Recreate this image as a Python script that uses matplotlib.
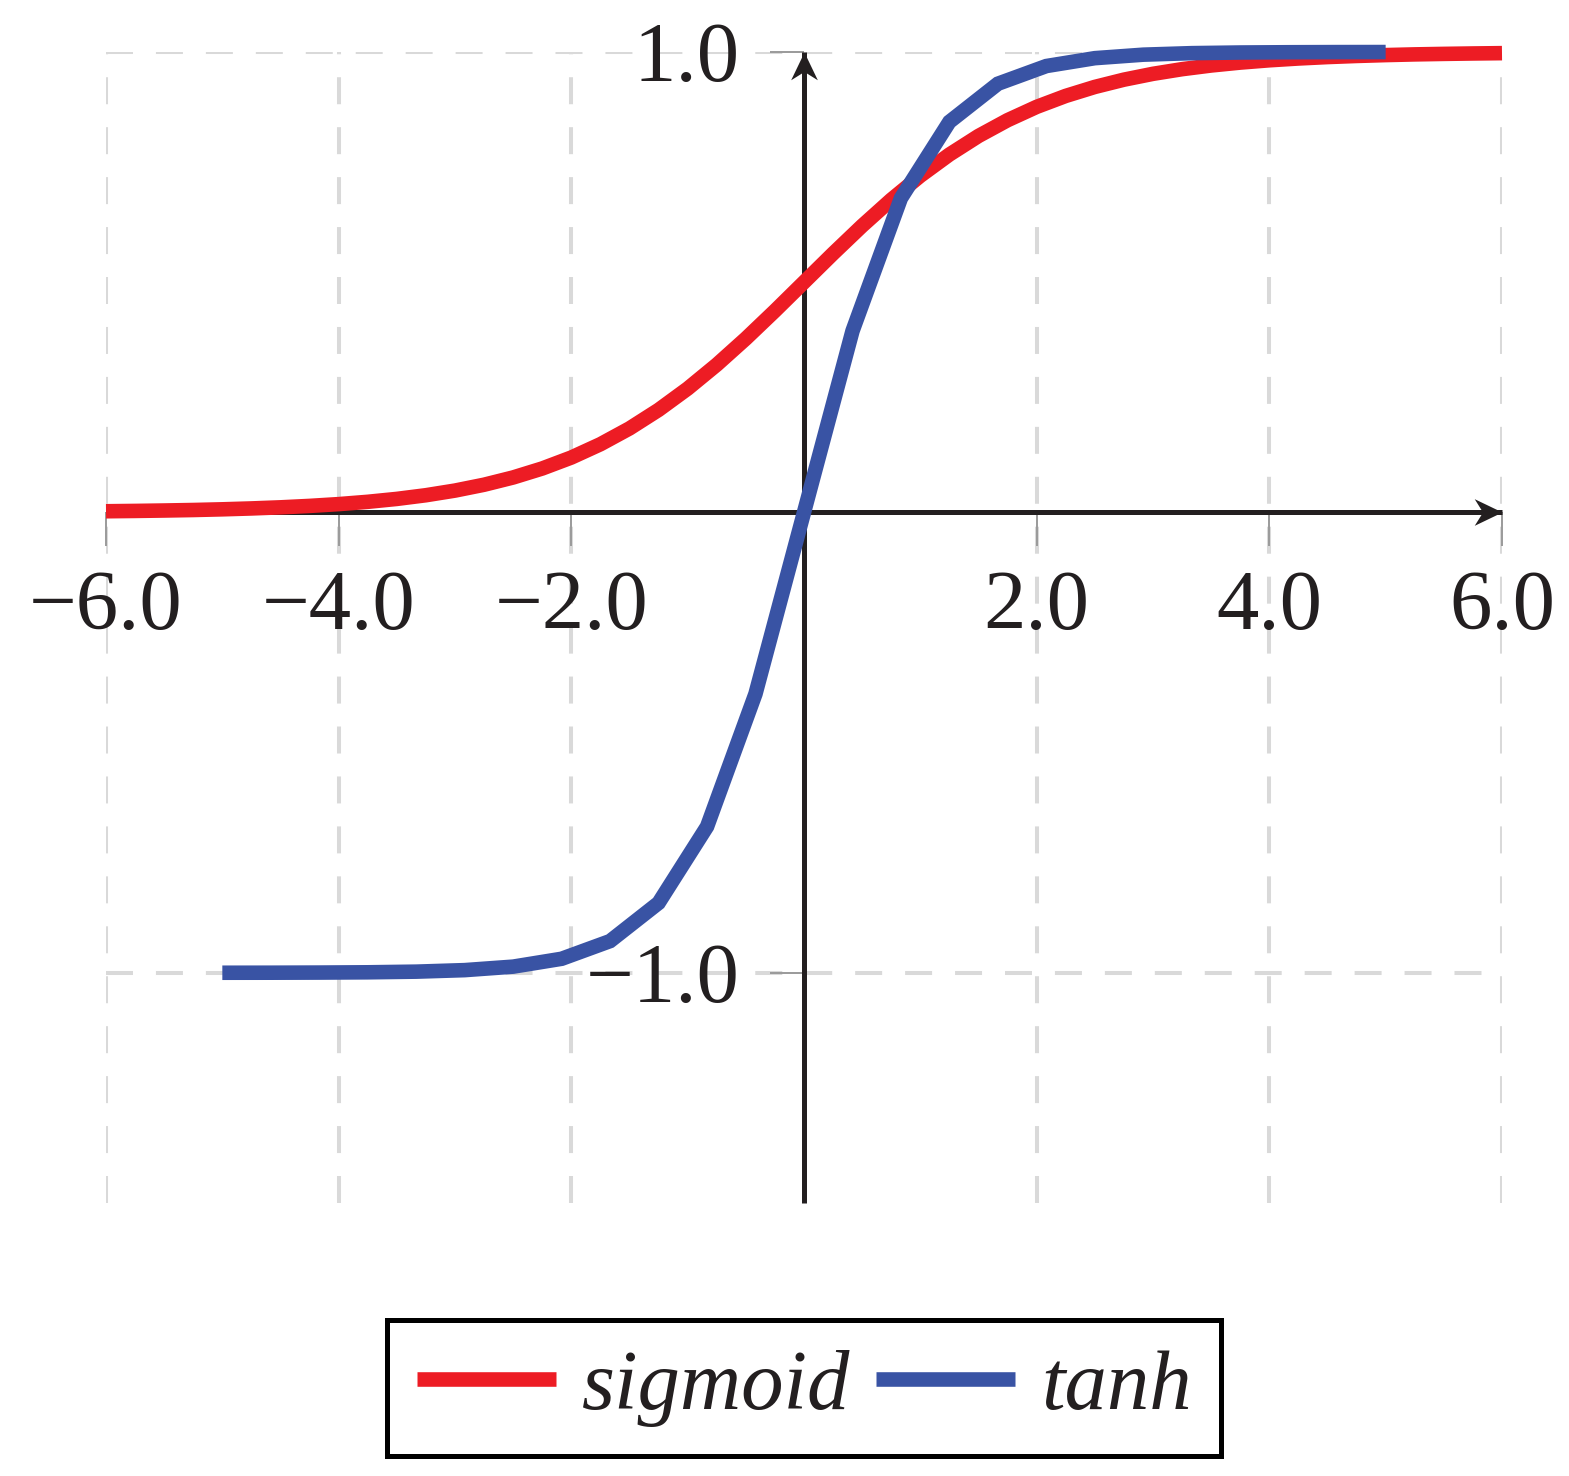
import matplotlib
matplotlib.use("Agg")
import matplotlib.pyplot as plt
from matplotlib.path import Path

# curve values
sig_x = [-6.0, -5.75, -5.5, -5.25, -5.0, -4.75, -4.5, -4.25, -4.0, -3.75, -3.5, -3.25,
         -3.0, -2.75, -2.5, -2.25, -2.0, -1.75, -1.5, -1.25, -1.0, -0.75, -0.5, -0.25,
         0.0, 0.25, 0.5, 0.75, 1.0, 1.25, 1.5, 1.75, 2.0, 2.25, 2.5, 2.75, 3.0, 3.25,
         3.5, 3.75, 4.0, 4.25, 4.5, 4.75, 5.0, 5.25, 5.5, 5.75, 6.0]
sig_y = [0.0025, 0.0032, 0.0041, 0.0052, 0.0067, 0.0086, 0.0110, 0.0141, 0.0180, 0.0230,
         0.0293, 0.0373, 0.0474, 0.0601, 0.0759, 0.0954, 0.1192, 0.1481, 0.1824, 0.2227,
         0.2689, 0.3208, 0.3775, 0.4378, 0.5000, 0.5622, 0.6225, 0.6792, 0.7311, 0.7773,
         0.8176, 0.8519, 0.8808, 0.9046, 0.9241, 0.9399, 0.9526, 0.9627, 0.9707, 0.9770,
         0.9820, 0.9859, 0.9890, 0.9914, 0.9933, 0.9948, 0.9959, 0.9968, 0.9975]

tanh_x = [-5.000, -4.583, -4.167, -3.750, -3.333, -2.917, -2.500, -2.083, -1.667, -1.250,
          -0.833, -0.417, 0.000, 0.417, 0.833, 1.250, 1.667, 2.083, 2.500, 2.917, 3.333,
          3.750, 4.167, 4.583, 5.000]
tanh_y = [-0.9999, -0.9998, -0.9995, -0.9989, -0.9975, -0.9942, -0.9866, -0.9695, -0.9311,
          -0.8483, -0.6823, -0.3941, 0.0, 0.3941, 0.6823, 0.8483, 0.9311, 0.9695, 0.9866,
          0.9942, 0.9975, 0.9989, 0.9995, 0.9998, 0.9999]

xticks = [-6, -4, -2, 2, 4, 6]
xlabels = ["\u22126.0", "\u22124.0", "\u22122.0", "2.0", "4.0", "6.0"]
yticks = [-1, 1]
ylabels = ["\u22121.0", "1.0"]

RED = "#ed1c24"
BLUE = "#3953a4"
DARK = "#231f20"
GRID = "#d9d9d9"
FONT = "Liberation Serif"
FS = 61

fig = plt.figure(figsize=(15.69, 14.76), dpi=100)
ax = fig.add_axes([0.06756, 0.18496, 0.88973, 0.77981])
xmin, xmax = -6, 6
ymin, ymax = -1.5, 1.0
ax.set_xlim(xmin, xmax)
ax.set_ylim(ymin, ymax)

for s in ["top", "right"]:
    ax.spines[s].set_visible(False)
ax.spines["bottom"].set_position(("data", 0))
ax.spines["left"].set_position(("data", 0))
ax.spines["bottom"].set_color("none")
ax.spines["left"].set_color("none")

ax.set_xticks(xticks, xlabels)
ax.set_yticks(yticks, ylabels)
ax.tick_params(direction="out", length=24.5, width=1.4, color="#9a9a9a",
               labelsize=FS, labelcolor=DARK)
ax.tick_params(axis="x", pad=17)
ax.tick_params(axis="y", pad=22)
for lab in ax.get_xticklabels() + ax.get_yticklabels():
    lab.set_family(FONT)

ax.grid(True, color=GRID, lw=2.9, linestyle=(0, (6.7, 5.7)))
ax.set_axisbelow(True)

# axis lines, stealth-like arrow heads as markers
ax.plot([xmin, xmax], [0, 0], color=DARK, lw=3.6, solid_capstyle="butt", clip_on=False, zorder=2)
ax.plot([0, 0], [ymin, ymax], color=DARK, lw=3.6, solid_capstyle="butt", clip_on=False, zorder=2)
head_r = Path([(0, 0), (-1, 0.48), (-0.7, 0), (-1, -0.48), (0, 0)],
              [Path.MOVETO, Path.LINETO, Path.LINETO, Path.LINETO, Path.CLOSEPOLY])
head_u = Path([(0, 0), (0.48, -1), (0, -0.7), (-0.48, -1), (0, 0)],
              [Path.MOVETO, Path.LINETO, Path.LINETO, Path.LINETO, Path.CLOSEPOLY])
ax.plot([xmax], [0], marker=head_r, ms=40, color=DARK, mew=0, clip_on=False, zorder=3)
ax.plot([0], [ymax], marker=head_u, ms=40, color=DARK, mew=0, clip_on=False, zorder=3)

ax.plot(sig_x, sig_y, color=RED, lw=10.5, solid_capstyle="butt", solid_joinstyle="miter",
        clip_on=False, zorder=4, label="sigmoid")
ax.plot(tanh_x, tanh_y, color=BLUE, lw=10.5, solid_capstyle="butt", solid_joinstyle="miter",
        clip_on=False, zorder=5, label="tanh")

leg = fig.legend(loc="center", bbox_to_anchor=(804 / 1569, 1 - 1388 / 1476), ncol=2,
                 prop=dict(family=FONT, style="italic", size=FS), frameon=True,
                 fancybox=False, edgecolor="black", framealpha=1, handlelength=1.65,
                 handletextpad=0.3, columnspacing=0.3, borderpad=0.35, borderaxespad=0)
leg.get_frame().set_linewidth(3.6)
for t in leg.get_texts():
    t.set_color(DARK)

fig.savefig("out.png", dpi=100)
